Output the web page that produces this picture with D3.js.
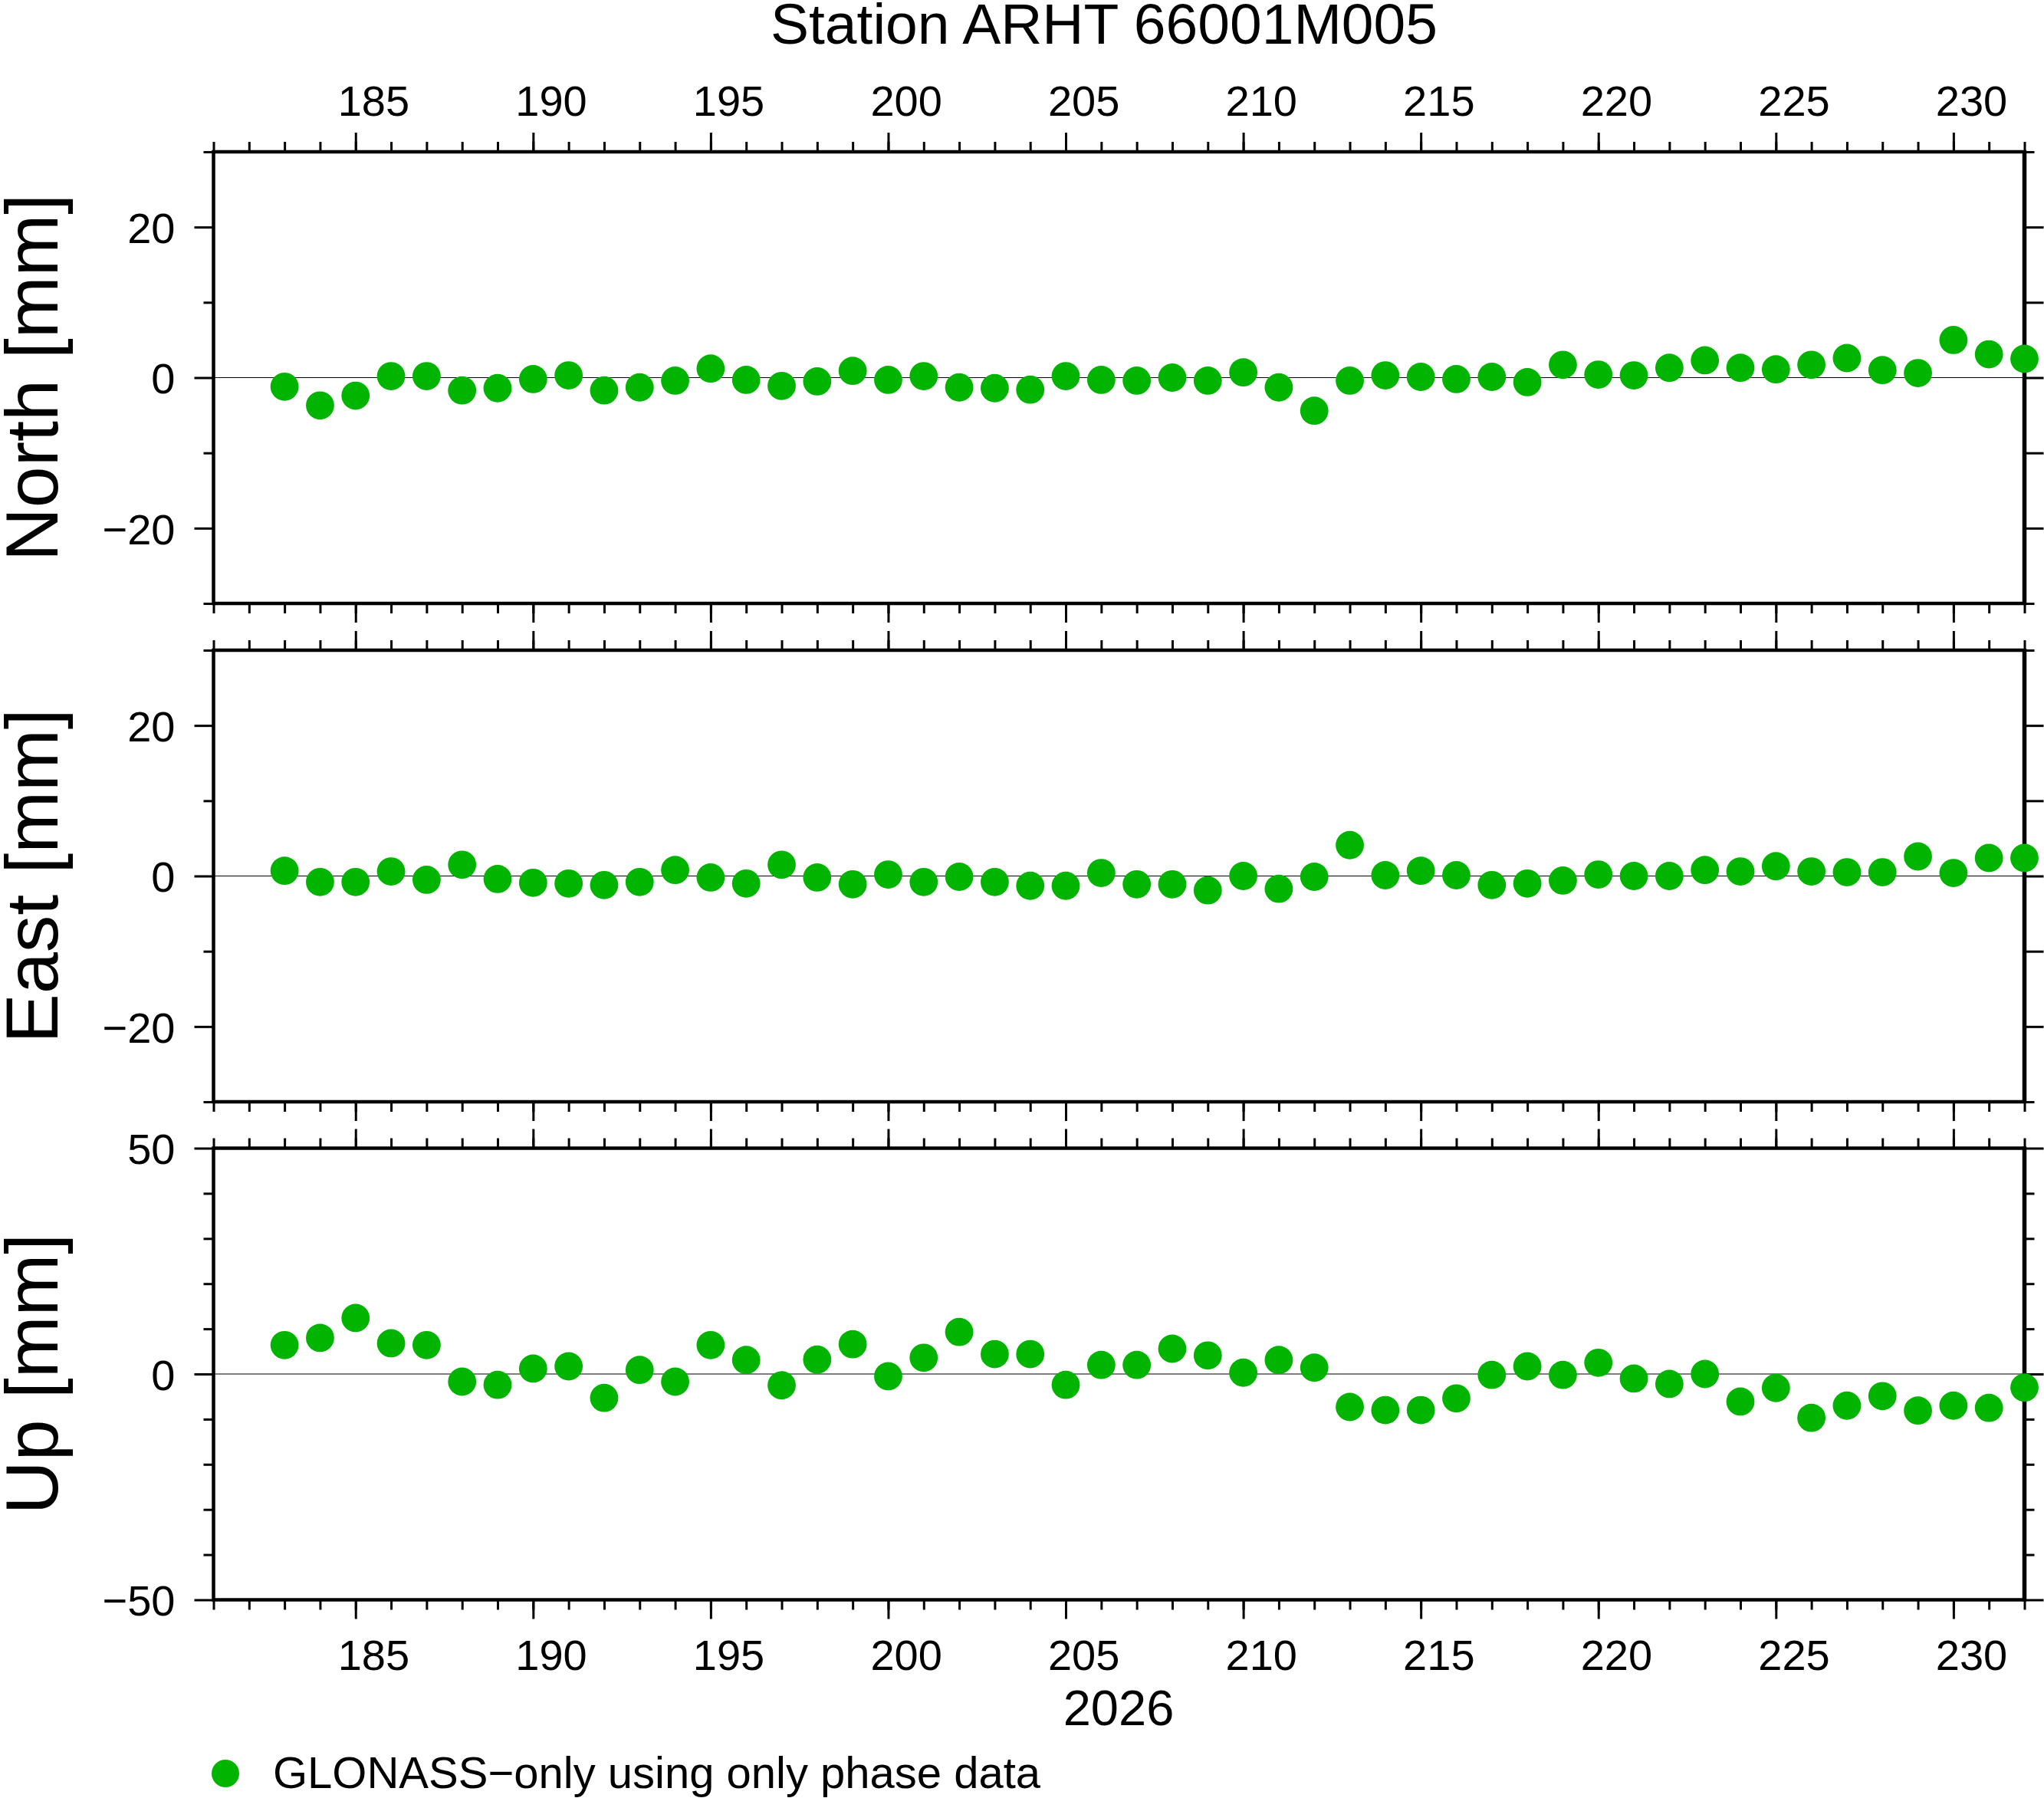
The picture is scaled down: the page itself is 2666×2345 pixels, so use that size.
<!DOCTYPE html>
<html>
<head>
<meta charset="utf-8">
<script src="https://cdn.jsdelivr.net/npm/d3@7/dist/d3.min.js"></script>
<style>
  body { margin: 0; background: #fff; }
  text { font-family: "Liberation Sans", Arial, Helvetica, sans-serif; fill: #000; }
</style>
</head>
<body>
<div id="chart"></div>
<script>
// day of year 2026
var days = [183,184,185,186,187,188,189,190,191,192,193,194,195,196,197,198,199,200,201,202,
            203,204,205,206,207,208,209,210,211,212,213,214,215,216,217,218,219,220,221,222,
            223,224,225,226,227,228,229,230,231,232];

// displacements in mm
var north = [-1.2,-3.7,-2.4,0.2,0.2,-1.7,-1.4,-0.2,0.3,-1.7,-1.3,-0.4,1.2,-0.3,-1.1,-0.5,0.9,-0.3,0.2,-1.3,
             -1.4,-1.6,0.2,-0.3,-0.4,0.0,-0.4,0.7,-1.3,-4.4,-0.4,0.3,0.1,-0.2,0.1,-0.6,1.7,0.4,0.3,1.3,
             2.3,1.3,1.1,1.7,2.6,1.0,0.6,5.0,3.1,2.5];
var east  = [0.7,-0.8,-0.8,0.6,-0.5,1.5,-0.4,-0.9,-1.0,-1.2,-0.8,0.8,-0.2,-1.0,1.5,-0.2,-1.1,0.2,-0.8,-0.1,
             -0.8,-1.3,-1.3,0.4,-1.1,-1.1,-1.9,0.0,-1.7,-0.1,4.1,0.1,0.7,0.1,-1.2,-1.0,-0.6,0.2,0.0,0.0,
             0.8,0.6,1.3,0.6,0.5,0.5,2.6,0.4,2.4,2.4];
var up    = [6.4,8.0,12.4,6.8,6.4,-1.7,-2.4,1.2,1.7,-5.3,0.9,-1.7,6.4,3.1,-2.5,3.2,6.6,-0.5,3.6,9.3,
             4.4,4.4,-2.4,2.0,2.0,5.6,4.1,0.3,3.1,1.4,-7.3,-8.0,-8.0,-5.4,-0.2,1.7,-0.2,2.5,-1.0,-2.2,
             0.0,-6.1,-3.1,-9.7,-7.0,-4.9,-8.1,-7.0,-7.5,-3.0];

var xDomain = [181, 232];
var xMajorTicks = [185,190,195,200,205,210,215,220,225,230];
var xMinorTicks = d3.range(181, 233);

var panelNames = ["North [mm]", "East [mm]", "Up [mm]"];
var panelValues = [north, east, up];
var yDomains = [[-30, 30], [-30, 30], [-50, 50]];
var yLabelTicks = [[-20, 0, 20], [-20, 0, 20], [-50, 0, 50]];
var yMinorTicks = [[-30,-10,10,30], [-30,-10,10,30], [-40,-30,-20,-10,10,20,30,40]];
var yRightLong = [[-20,-10,0,10,20], [-20,-10,0,10,20], [-50,0,50]];
var yRightShort = [[-30,30], [-30,30], [-40,-30,-20,-10,10,20,30,40]];

var title = "Station ARHT 66001M005";
var yearLabel = "2026";
var legendLabel = "GLONASS\u2212only using only phase data";

var W = 2666, H = 2345;
var left = 278.5, right = 2640.5;
var panelTop = [198, 848, 1497.5], panelH = 589;
var green = "rgb(0,180,0)";
var dotR = 18.4;
var majorLen = 25, minorLen = 13;

var svg = d3.select("#chart").append("svg")
    .attr("width", W).attr("height", H)
    .style("display", "block");

var x = d3.scaleLinear().domain(xDomain).range([left, right]);

function tickStyle(g) {
  g.select(".domain").remove();
  g.selectAll(".tick line").attr("stroke", "#000").attr("stroke-width", 3);
}

panelNames.forEach(function(name, i) {
  var top = panelTop[i];
  var y = d3.scaleLinear().domain(yDomains[i]).range([top + panelH, top]);
  var g = svg.append("g");

  // left ticks + labels
  g.append("g").attr("transform", "translate(" + left + ",0)")
    .call(d3.axisLeft(y).tickValues(yMinorTicks[i]).tickSize(minorLen).tickFormat(""))
    .call(tickStyle);
  g.append("g").attr("transform", "translate(" + left + ",0)")
    .call(d3.axisLeft(y).tickValues(yLabelTicks[i]).tickSize(majorLen).tickPadding(25))
    .call(tickStyle)
    .call(function(a) {
      a.selectAll("text").attr("font-size", 56).attr("dy", "0.36em");
    });

  // right ticks
  g.append("g").attr("transform", "translate(" + right + ",0)")
    .call(d3.axisRight(y).tickValues(yRightShort[i]).tickSize(minorLen).tickFormat(""))
    .call(tickStyle);
  g.append("g").attr("transform", "translate(" + right + ",0)")
    .call(d3.axisRight(y).tickValues(yRightLong[i]).tickSize(majorLen).tickFormat(""))
    .call(tickStyle);

  // top and bottom ticks
  [["top", top], ["bottom", top + panelH]].forEach(function(s) {
    var gen = s[0] == "top" ? d3.axisTop : d3.axisBottom;
    g.append("g").attr("transform", "translate(0," + s[1] + ")")
      .call(gen(x).tickValues(xMinorTicks).tickSize(minorLen).tickFormat(""))
      .call(tickStyle);
    g.append("g").attr("transform", "translate(0," + s[1] + ")")
      .call(gen(x).tickValues(xMajorTicks).tickSize(majorLen).tickFormat(""))
      .call(tickStyle);
  });

  // zero line
  g.append("line")
    .attr("x1", left).attr("x2", right)
    .attr("y1", y(0)).attr("y2", y(0))
    .attr("stroke", "#000").attr("stroke-width", 1.2);

  // frame
  g.append("rect")
    .attr("x", left).attr("y", top)
    .attr("width", right - left).attr("height", panelH)
    .attr("fill", "none").attr("stroke", "#000").attr("stroke-width", 4.5);
  g.append("line")
    .attr("x1", right).attr("x2", right)
    .attr("y1", top - 2).attr("y2", top + panelH + 2)
    .attr("stroke", "#000").attr("stroke-width", 5.5);

  // points
  g.selectAll("circle").data(panelValues[i]).enter().append("circle")
    .attr("cx", function(d, k) { return x(days[k]); })
    .attr("cy", function(d) { return y(d); })
    .attr("r", dotR)
    .attr("fill", green);

  // y title
  g.append("text")
    .attr("transform", "translate(75," + (top + panelH / 2) + ") rotate(-90)")
    .attr("text-anchor", "middle")
    .attr("font-size", 97)
    .text(name);
});

// day labels, centred in the middle of the day
var labelAxisTop = d3.axisTop(x).tickValues(xMajorTicks.map(function(d) { return d + 0.5; }))
    .tickSize(0).tickFormat(function(d) { return Math.floor(d); });
svg.append("g").attr("transform", "translate(0," + panelTop[0] + ")")
  .call(labelAxisTop)
  .call(function(a) {
    a.select(".domain").remove();
    a.selectAll("text").attr("font-size", 56).attr("y", -47).attr("dy", null);
  });

var labelAxisBottom = d3.axisBottom(x).tickValues(xMajorTicks.map(function(d) { return d + 0.5; }))
    .tickSize(0).tickFormat(function(d) { return Math.floor(d); });
svg.append("g").attr("transform", "translate(0," + (panelTop[2] + panelH) + ")")
  .call(labelAxisBottom)
  .call(function(a) {
    a.select(".domain").remove();
    a.selectAll("text").attr("font-size", 56).attr("y", 91.5).attr("dy", null);
  });

// title
svg.append("text")
  .attr("x", 1440).attr("y", 57)
  .attr("text-anchor", "middle")
  .attr("font-size", 75)
  .text(title);

// year
svg.append("text")
  .attr("x", 1459).attr("y", 2250)
  .attr("text-anchor", "middle")
  .attr("font-size", 65)
  .text(yearLabel);

// legend
svg.append("circle")
  .attr("cx", 294).attr("cy", 2313).attr("r", 18)
  .attr("fill", green);
svg.append("text")
  .attr("x", 356).attr("y", 2332)
  .attr("font-size", 58)
  .text(legendLabel);
</script>
</body>
</html>
